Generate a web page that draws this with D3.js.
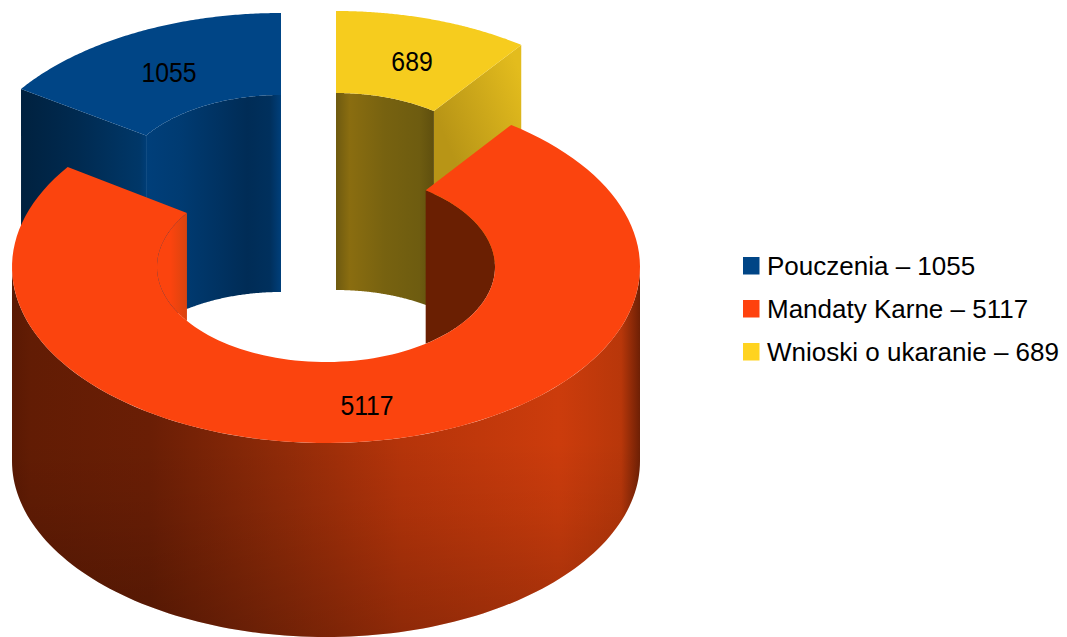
<!DOCTYPE html>
<html><head><meta charset="utf-8">
<script src="https://cdn.jsdelivr.net/npm/d3@7"></script>
<style>html,body{margin:0;padding:0;background:#fff}svg{display:block}text{font-family:"Liberation Sans",Arial,sans-serif;fill:#000}</style>
</head><body><svg id="c" width="1067" height="637"></svg>
<script>
const categories = ["Pouczenia", "Mandaty Karne", "Wnioski o ukaranie"];
const values = [1055, 5117, 689];
const legendLabels = ["Pouczenia – 1055", "Mandaty Karne – 5117", "Wnioski o ukaranie – 689"];
const swatchColors = ["#004586", "#ff420e", "#ffd320"];
const faceColors = ["#004586", "#fb440e", "#f6cc1e"];

// projection of every exploded slice: centre, hole radius, extrusion
const frames = [
  {cx: 281, cy: 189, rx: 316, ry: 176, irx: 164, iry: 94, depth: 197},
  {cx: 326, cy: 267, rx: 314, ry: 176, irx: 169, iry: 95, depth: 194},
  {cx: 336, cy: 187, rx: 314, ry: 176, irx: 166, iry: 94, depth: 197}
];
const labelPos = [[169, 82], [367, 415], [412, 71]];

const svg = d3.select("#c");
const defs = svg.append("defs");
function grad(id, x1, y1, x2, y2, stops) {
  const g = defs.append("linearGradient").attr("id", id).attr("gradientUnits", "userSpaceOnUse")
    .attr("x1", x1).attr("y1", y1).attr("x2", x2).attr("y2", y2);
  stops.forEach(s => g.append("stop").attr("offset", s[0]).attr("stop-color", s[1]).attr("stop-opacity", s[2] === undefined ? 1 : s[2]));
  return `url(#${id})`;
}

// d3.pie going counter-clockwise from 12 o'clock
const pie = d3.pie().value(d => d).sort(null).startAngle(0).endAngle(-2 * Math.PI);
const arcs = pie(values);
const line = d3.line();
const pt = (f, rx, ry, a, dy = 0) => [f.cx + rx * Math.sin(a), f.cy - ry * Math.cos(a) + dy];
function sweep(a0, a1, n = 120) { return d3.range(n + 1).map(i => a0 + (a1 - a0) * i / n); }
const outerP = (f, a0, a1, dy) => sweep(a0, a1).map(a => pt(f, f.rx, f.ry, a, dy));
const innerP = (f, a0, a1, dy) => sweep(a0, a1).map(a => pt(f, f.irx, f.iry, a, dy));
const area = (fill, pts) => svg.append("path").attr("d", line(pts) + "Z").attr("fill", fill);

const face = (i) => {
  const f = frames[i], d = arcs[i];
  area(faceColors[i], [...outerP(f, d.startAngle, d.endAngle), ...innerP(f, d.endAngle, d.startAngle)]);
};
function cutFace(i, a, fill) {
  const f = frames[i];
  const o = pt(f, f.rx, f.ry, a), n = pt(f, f.irx, f.iry, a);
  area(fill, [o, n, pt(f, f.irx, f.iry, a, f.depth), pt(f, f.rx, f.ry, a, f.depth)]);
}
function innerWall(i, a0, a1, fill) {
  const f = frames[i];
  area(fill, [...innerP(f, a0, a1), ...innerP(f, a1, a0, f.depth)]);
}

// Pouczenia
{
  const f = frames[0], d = arcs[0];
  const cut = pt(f, f.irx, f.iry, d.endAngle);
  const out = pt(f, f.rx, f.ry, d.endAngle);
  cutFace(0, d.endAngle, grad("bc", out[0], 0, cut[0], 0, [[0, "#00213f"], [.45, "#002a50"], [.95, "#003768"], [1, "#003d76"]]));
  innerWall(0, d.endAngle, 0, grad("bi", cut[0], 0, f.cx, 0, [[0, "#003f7a"], [.25, "#003b72"], [.75, "#002c56"], [.92, "#00305d"], [1, "#003f7a"]]));
  face(0);
}
// Wnioski
{
  const f = frames[2], d = arcs[2];
  const cut = pt(f, f.irx, f.iry, d.startAngle);
  const out = pt(f, f.rx, f.ry, d.startAngle);
  cutFace(2, d.startAngle, grad("yc", cut[0], cut[1], out[0], out[1] + 30, [[0, "#b89516"], [.5, "#cda81a"], [1, "#e3bc1d"]]));
  innerWall(2, d.startAngle, d.endAngle, grad("yi", f.cx, 0, cut[0], 0, [[0, "#6e5a10"], [.14, "#8a6d10"], [.5, "#776210"], [.85, "#6e5c10"], [1, "#5f4f0e"]]));
  face(2);
}
// Mandaty Karne
{
  const f = frames[1], d = arcs[1];
  const left = f.cx - f.rx, right = f.cx + f.rx;
  const wall = [...outerP(f, -Math.PI / 2, -3 * Math.PI / 2), ...outerP(f, -3 * Math.PI / 2, -Math.PI / 2, f.depth)];
  area(grad("ow", left, 0, right, 0, [[0, "#5a1903"], [.03, "#621c04"], [.22, "#6a1e05"], [.42, "#8e2a08"], [.62, "#b5340a"], [.87, "#cc3c0c"], [.97, "#b8370a"], [1, "#6e2005"]]), wall);
  area(grad("ov", 0, f.cy + f.ry, 0, f.cy + f.ry + f.depth, [[0, "#000", 0], [.35, "#000", .06], [1, "#000", .22]]), wall);
  // back parts of the hole, either side of the cut: segments of the hole ellipse
  const rightCut = d.endAngle + 2 * Math.PI;
  area("#6a1f02", innerP(f, rightCut, Math.PI - rightCut));
  const leftCut = d.startAngle;
  area(grad("ol", f.cx - f.irx, 0, pt(f, f.irx, f.iry, leftCut)[0], 0, [[0, "#fb440e"], [.45, "#fb440e"], [1, "#d9440f"]]),
       innerP(f, leftCut, -Math.PI - leftCut));
  face(1);
}

// value labels
svg.append("g").selectAll("text").data(values).join("text")
  .attr("transform", (d, i) => `translate(${labelPos[i][0]},${labelPos[i][1]}) scale(.9,1)`)
  .attr("text-anchor", "middle").attr("font-size", 27.5).text(d => d);

// legend
const yScale = d3.scalePoint().domain(categories).range([275, 361]);
const legend = svg.append("g").selectAll("g").data(categories).join("g");
legend.append("rect").attr("x", 743).attr("y", d => yScale(d) - 18).attr("width", 16.5).attr("height", 17.5)
  .attr("fill", (d, i) => swatchColors[i]);
legend.append("text").attr("x", 767).attr("y", d => yScale(d)).attr("font-size", 26)
  .text((d, i) => legendLabels[i]);
</script></body></html>
